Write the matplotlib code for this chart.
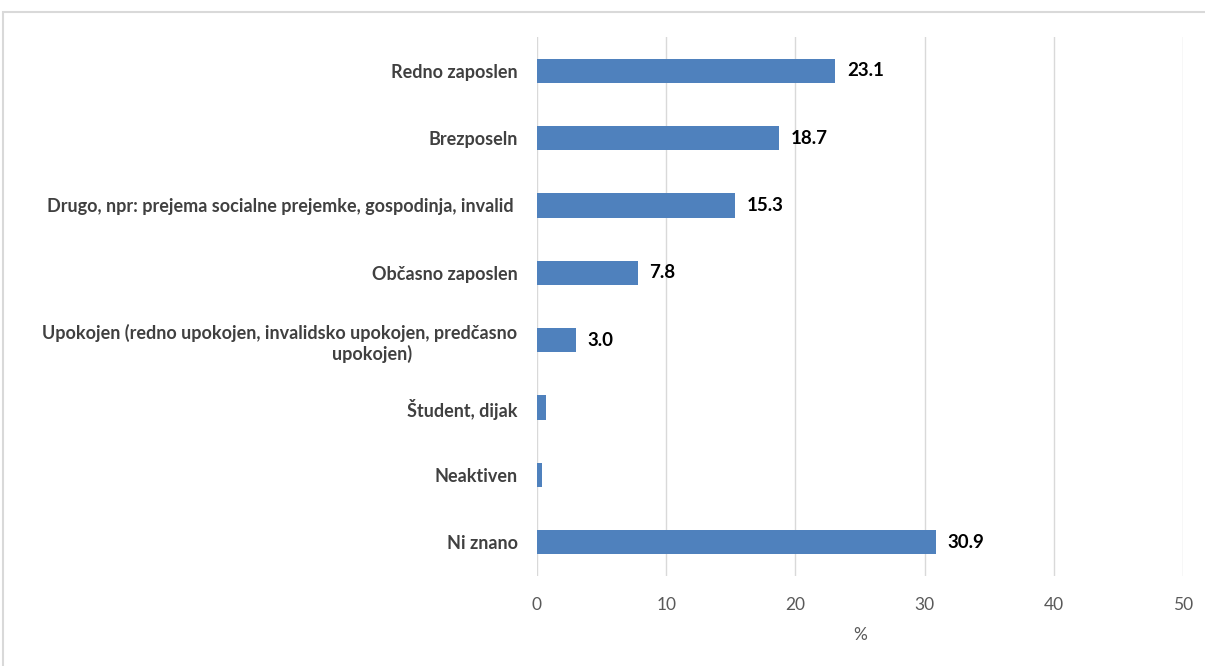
import numpy as np
import matplotlib.pyplot as plt
from matplotlib.patches import Rectangle

categories = ["Redno zaposlen", "Brezposeln",
              "Drugo, npr: prejema socialne prejemke, gospodinja, invalid ",
              "Občasno zaposlen",
              "Upokojen (redno upokojen, invalidsko upokojen, predčasno\nupokojen)" + " " * 24,
              "Študent, dijak", "Neaktiven", "Ni znano"]
values = [23.1, 18.7, 15.3, 7.8, 3.0, 0.7, 0.4, 30.9]
labels = ["23.1", "18.7", "15.3", "7.8", "3.0", "", "", "30.9"]
xticks = [0, 10, 20, 30, 40, 50]

plt.rcParams['font.family'] = ['Lato', 'DejaVu Sans']

fig = plt.figure(figsize=(12.05, 6.66), dpi=100)
fig.patches.append(Rectangle((3/1205, -0.1), 1.2, 1 - 12/666 + 0.1, transform=fig.transFigure,
                             fill=False, edgecolor='#d9d9d9', linewidth=1.5))
ax = fig.add_axes([537/1205, 1 - 576/666, 646/1205, 539/666])

y = np.arange(len(categories))
ax.barh(y, values, height=0.36, color='#4f81bd', zorder=3)
for yi, v, lab in zip(y, values, labels):
    if lab:
        ax.text(v + 0.9, yi, lab, va='center', ha='left', fontsize=13.5,
                fontweight='bold', color='black')

ax.set_ylim(len(categories) - 0.5, -0.5)
ax.set_xlim(0, 50)
ax.set_xticks(xticks)
ax.set_yticks(y)
ax.set_yticklabels(categories, fontsize=13, fontweight='bold', color='#404040',
                   multialignment='right')
ax.tick_params(axis='both', length=0)
ax.tick_params(axis='x', labelsize=12.5, colors='#595959', pad=15)
ax.tick_params(axis='y', pad=14)
ax.xaxis.grid(True, color='#d9d9d9', linewidth=1, zorder=0)
for s in ax.spines.values():
    s.set_visible(False)
ax.set_xlabel('%', fontsize=12.5, color='#595959', labelpad=10)

fig.savefig('out.png', dpi=100)
